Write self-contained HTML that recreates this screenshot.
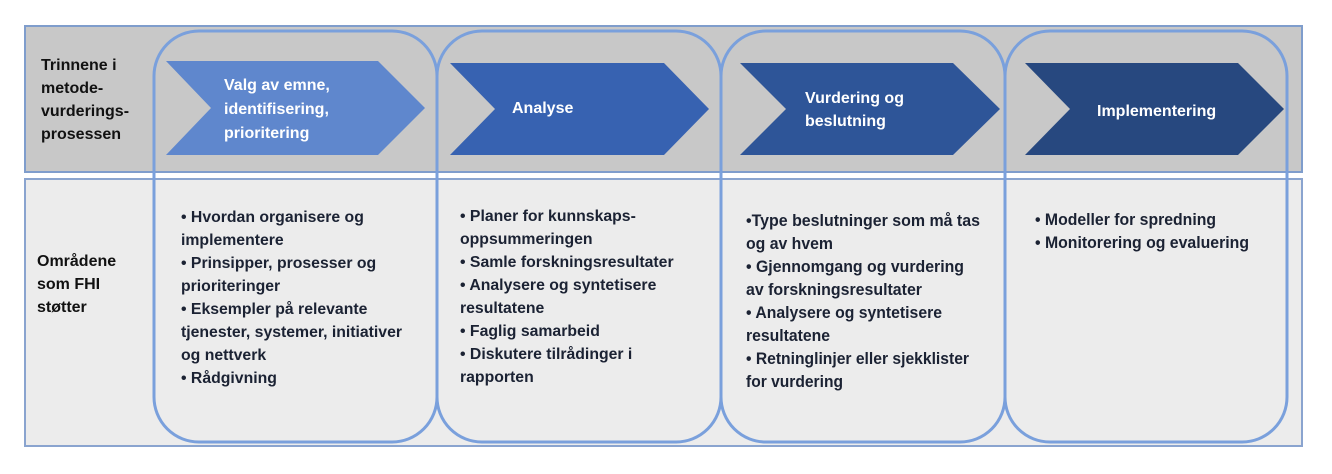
<!DOCTYPE html>
<html><head><meta charset="utf-8"><style>
html,body{margin:0;padding:0;background:#fff;}
svg{display:block;}
.h{font-family:"Liberation Sans",sans-serif;font-weight:bold;font-size:16px;fill:#fff;}
.l{font-family:"Liberation Sans",sans-serif;font-weight:bold;font-size:16px;fill:#111;}
.b{font-family:"Liberation Sans",sans-serif;font-weight:bold;font-size:15.8px;fill:#1b2233;}
.n{font-family:"Liberation Sans",sans-serif;font-weight:bold;font-size:17px;fill:#1b2233;}
</style></head><body>
<svg width="1332" height="474" viewBox="0 0 1332 474" xmlns="http://www.w3.org/2000/svg">
<rect x="0" y="0" width="1332" height="474" fill="#fff"/>
<rect x="25" y="26" width="1277" height="146" fill="#c8c8c8" stroke="#7f9dcc" stroke-width="2"/>
<rect x="25" y="179" width="1277" height="267" fill="#ececec" stroke="#8aa4cf" stroke-width="2"/>
<g fill="none" stroke="#7aa0dc" stroke-width="3">
<rect x="154" y="31" width="283" height="411" rx="45" ry="45"/>
<rect x="437" y="31" width="284" height="411" rx="45" ry="45"/>
<rect x="721" y="31" width="284" height="411" rx="45" ry="45"/>
<rect x="1005" y="31" width="282" height="411" rx="45" ry="45"/>
</g>
<polygon points="166,61 378,61 425,108 378,155 166,155 211,108" fill="#5f87cd"/>
<polygon points="450,63 664,63 709,109 664,155 450,155 495,109" fill="#3762b1"/>
<polygon points="740,63 953,63 1000,109 953,155 740,155 786,109" fill="#2e5598"/>
<polygon points="1025,63 1238,63 1284,109 1238,155 1025,155 1070,109" fill="#27487f"/>
<text class="h" x="224" y="90">Valg av emne,</text>
<text class="h" x="224" y="114">identifisering,</text>
<text class="h" x="224" y="138">prioritering</text>
<text class="h" x="512" y="113">Analyse</text>
<text class="h" x="805" y="103">Vurdering og</text>
<text class="h" x="805" y="126">beslutning</text>
<text class="h" x="1097" y="116">Implementering</text>
<text class="l" x="41" y="70">Trinnene i</text>
<text class="l" x="41" y="93">metode-</text>
<text class="l" x="41" y="116">vurderings-</text>
<text class="l" x="41" y="139">prosessen</text>
<text class="l" x="37" y="266">Områdene</text>
<text class="l" x="37" y="289">som FHI</text>
<text class="l" x="37" y="312">støtter</text>
<g class="b">
<text x="181" y="222">• Hvordan organisere og</text>
<text x="181" y="245">implementere</text>
<text x="181" y="268">• Prinsipper, prosesser og</text>
<text x="181" y="291">prioriteringer</text>
<text x="181" y="314">• Eksempler på relevante</text>
<text x="181" y="337" textLength="221">tjenester, systemer, initiativer</text>
<text x="181" y="360">og nettverk</text>
<text x="181" y="383">• Rådgivning</text>
<text x="460" y="221">• Planer for kunnskaps-</text>
<text x="460" y="244">oppsummeringen</text>
<text x="460" y="267">• Samle forskningsresultater</text>
<text x="460" y="290">• Analysere og syntetisere</text>
<text x="460" y="313">resultatene</text>
<text x="460" y="336">• Faglig samarbeid</text>
<text x="460" y="359">• Diskutere tilrådinger i</text>
<text x="460" y="382">rapporten</text>
</g>
<g class="n">
<text x="746" y="226" textLength="234" lengthAdjust="spacingAndGlyphs">•Type beslutninger som må tas</text>
<text x="746" y="249" textLength="87" lengthAdjust="spacingAndGlyphs">og av hvem</text>
<text x="746" y="272" textLength="218" lengthAdjust="spacingAndGlyphs">• Gjennomgang og vurdering</text>
<text x="746" y="295" textLength="176" lengthAdjust="spacingAndGlyphs">av forskningsresultater</text>
<text x="746" y="318" textLength="196" lengthAdjust="spacingAndGlyphs">• Analysere og syntetisere</text>
<text x="746" y="341" textLength="84" lengthAdjust="spacingAndGlyphs">resultatene</text>
<text x="746" y="364" textLength="223" lengthAdjust="spacingAndGlyphs">• Retninglinjer eller sjekklister</text>
<text x="746" y="387" textLength="97" lengthAdjust="spacingAndGlyphs">for vurdering</text>
<text x="1035" y="225" textLength="181" lengthAdjust="spacingAndGlyphs">• Modeller for spredning</text>
<text x="1035" y="248" textLength="214" lengthAdjust="spacingAndGlyphs">• Monitorering og evaluering</text>
</g>
</svg>
</body></html>
